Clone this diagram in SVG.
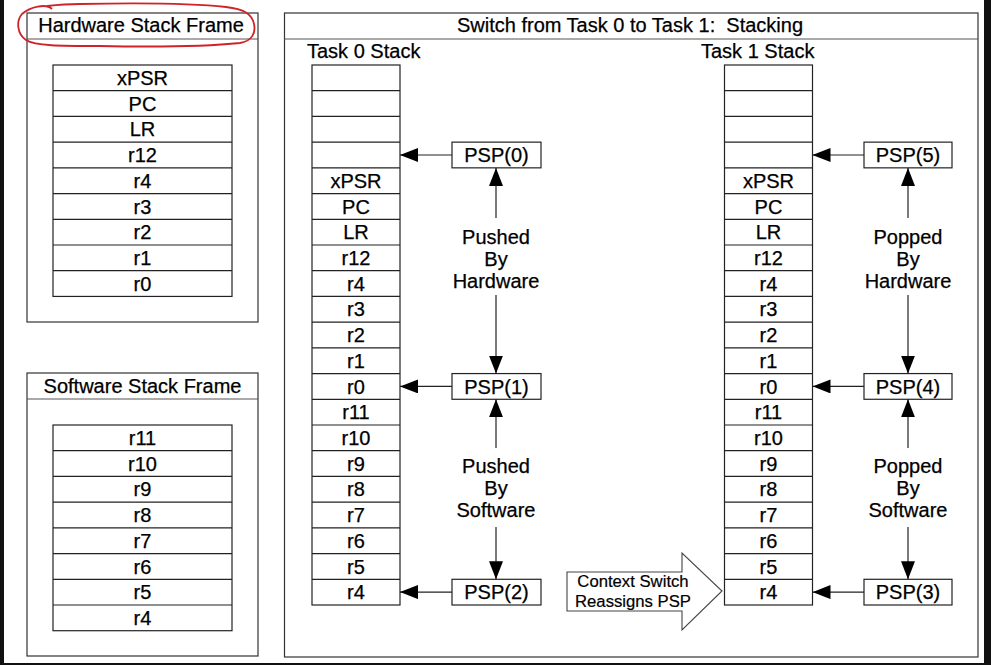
<svg xmlns="http://www.w3.org/2000/svg" width="991" height="665" viewBox="0 0 991 665">
<style>
.frame{fill:#fff;stroke:#333;stroke-width:1.2}
.div{stroke:#555;stroke-width:1.2}
.cell{fill:#fff;stroke:#222;stroke-width:1.2}
.ln{stroke:#222;stroke-width:1.2}
.t{font-family:"Liberation Sans",Arial,sans-serif;font-size:20px;fill:#000;stroke:#000;stroke-width:0.25;text-anchor:middle}
.tl{font-family:"Liberation Sans",Arial,sans-serif;font-size:20px;fill:#000;stroke:#000;stroke-width:0.25}
.ts{font-family:"Liberation Sans",Arial,sans-serif;font-size:16.7px;fill:#000;stroke:#000;stroke-width:0.2;text-anchor:middle}
.conn{stroke:#222;stroke-width:1.2;fill:none;marker-end:url(#ah)}
.bar{fill:#111}
</style>
<defs>
<marker id="ah" markerUnits="userSpaceOnUse" markerWidth="18" markerHeight="14" refX="18" refY="7" orient="auto">
<path d="M0,0 L18,7 L0,14 z" fill="#000"/>
</marker>
</defs>
<rect width="991" height="665" fill="#fff"/>
<rect class="bar" x="0" y="0" width="4" height="665"/>
<rect class="bar" x="984" y="0" width="7" height="665"/>
<rect class="bar" x="0" y="663" width="991" height="2"/>

<g id="hardware-frame">
<rect class="frame" x="27" y="13" width="231" height="309"/>
<line class="div" x1="27" y1="39" x2="258" y2="39"/>
<text class="t" x="141" y="32">Hardware Stack Frame</text>
<rect class="cell" x="53" y="65" width="179" height="231.43"/>
<line class="ln" x1="53" y1="90.71" x2="232" y2="90.71"/>
<line class="ln" x1="53" y1="116.43" x2="232" y2="116.43"/>
<line class="ln" x1="53" y1="142.14" x2="232" y2="142.14"/>
<line class="ln" x1="53" y1="167.86" x2="232" y2="167.86"/>
<line class="ln" x1="53" y1="193.57" x2="232" y2="193.57"/>
<line class="ln" x1="53" y1="219.29" x2="232" y2="219.29"/>
<line class="ln" x1="53" y1="245" x2="232" y2="245"/>
<line class="ln" x1="53" y1="270.71" x2="232" y2="270.71"/>
<text class="t" x="142.5" y="85">xPSR</text>
<text class="t" x="142.5" y="110.7">PC</text>
<text class="t" x="142.5" y="136.4">LR</text>
<text class="t" x="142.5" y="162.1">r12</text>
<text class="t" x="142.5" y="187.8">r4</text>
<text class="t" x="142.5" y="213.5">r3</text>
<text class="t" x="142.5" y="239.2">r2</text>
<text class="t" x="142.5" y="265">r1</text>
<text class="t" x="142.5" y="290.7">r0</text>
<path d="M52,9 C46,3 30,7 22,14 C16,21 17,34 26,40 C35,46 60,46 100,46 C150,47 210,46 240,43 C252,41 256,33 254,24 C252,14 244,9 226,7 C190,3 130,3 80,4 C66,4 56,5 47,6" fill="none" stroke="#d0222a" stroke-width="1.8"/>
</g>

<g id="software-frame">
<rect class="frame" x="27" y="373" width="231" height="283"/>
<line class="div" x1="27" y1="399" x2="258" y2="399"/>
<text class="t" x="142.5" y="393">Software Stack Frame</text>
<rect class="cell" x="53" y="425" width="179" height="205.71"/>
<line class="ln" x1="53" y1="450.71" x2="232" y2="450.71"/>
<line class="ln" x1="53" y1="476.43" x2="232" y2="476.43"/>
<line class="ln" x1="53" y1="502.14" x2="232" y2="502.14"/>
<line class="ln" x1="53" y1="527.86" x2="232" y2="527.86"/>
<line class="ln" x1="53" y1="553.57" x2="232" y2="553.57"/>
<line class="ln" x1="53" y1="579.29" x2="232" y2="579.29"/>
<line class="ln" x1="53" y1="605" x2="232" y2="605"/>
<text class="t" x="142.5" y="445">r11</text>
<text class="t" x="142.5" y="470.7">r10</text>
<text class="t" x="142.5" y="496.4">r9</text>
<text class="t" x="142.5" y="522.1">r8</text>
<text class="t" x="142.5" y="547.8">r7</text>
<text class="t" x="142.5" y="573.5">r6</text>
<text class="t" x="142.5" y="599.2">r5</text>
<text class="t" x="142.5" y="625">r4</text>
</g>

<g id="switch-frame">
<rect class="frame" x="284.5" y="13" width="693.5" height="644"/>
<line class="div" x1="284.5" y1="39" x2="978" y2="39"/>
<text class="t" x="630" y="32" xml:space="preserve" style="white-space:pre">Switch from Task 0 to Task 1:  Stacking</text>
</g>

<g id="task0-stack">
<text class="tl" x="307" y="58">Task 0 Stack</text>
<rect class="cell" x="312" y="65" width="88" height="540"/>
<path class="ln" d="M312,90.71H400M312,116.43H400M312,142.14H400M312,167.86H400M312,193.57H400M312,219.29H400M312,245H400M312,270.71H400M312,296.43H400M312,322.14H400M312,347.86H400M312,373.57H400M312,399.29H400M312,425H400M312,450.71H400M312,476.43H400M312,502.14H400M312,527.86H400M312,553.57H400M312,579.29H400"/>
<text class="t" x="356" y="187.8">xPSR</text>
<text class="t" x="356" y="213.5">PC</text>
<text class="t" x="356" y="239.2">LR</text>
<text class="t" x="356" y="265">r12</text>
<text class="t" x="356" y="290.7">r4</text>
<text class="t" x="356" y="316.4">r3</text>
<text class="t" x="356" y="342.1">r2</text>
<text class="t" x="356" y="367.8">r1</text>
<text class="t" x="356" y="393.5">r0</text>
<text class="t" x="356" y="419.2">r11</text>
<text class="t" x="356" y="445">r10</text>
<text class="t" x="356" y="470.7">r9</text>
<text class="t" x="356" y="496.4">r8</text>
<text class="t" x="356" y="522.1">r7</text>
<text class="t" x="356" y="547.8">r6</text>
<text class="t" x="356" y="573.5">r5</text>
<text class="t" x="356" y="599.2">r4</text>
</g>

<g id="task1-stack">
<text class="tl" x="701" y="58">Task 1 Stack</text>
<rect class="cell" x="724.5" y="65" width="88" height="540"/>
<path class="ln" d="M724.5,90.71H812.5M724.5,116.43H812.5M724.5,142.14H812.5M724.5,167.86H812.5M724.5,193.57H812.5M724.5,219.29H812.5M724.5,245H812.5M724.5,270.71H812.5M724.5,296.43H812.5M724.5,322.14H812.5M724.5,347.86H812.5M724.5,373.57H812.5M724.5,399.29H812.5M724.5,425H812.5M724.5,450.71H812.5M724.5,476.43H812.5M724.5,502.14H812.5M724.5,527.86H812.5M724.5,553.57H812.5M724.5,579.29H812.5"/>
<text class="t" x="768.5" y="187.8">xPSR</text>
<text class="t" x="768.5" y="213.5">PC</text>
<text class="t" x="768.5" y="239.2">LR</text>
<text class="t" x="768.5" y="265">r12</text>
<text class="t" x="768.5" y="290.7">r4</text>
<text class="t" x="768.5" y="316.4">r3</text>
<text class="t" x="768.5" y="342.1">r2</text>
<text class="t" x="768.5" y="367.8">r1</text>
<text class="t" x="768.5" y="393.5">r0</text>
<text class="t" x="768.5" y="419.2">r11</text>
<text class="t" x="768.5" y="445">r10</text>
<text class="t" x="768.5" y="470.7">r9</text>
<text class="t" x="768.5" y="496.4">r8</text>
<text class="t" x="768.5" y="522.1">r7</text>
<text class="t" x="768.5" y="547.8">r6</text>
<text class="t" x="768.5" y="573.5">r5</text>
<text class="t" x="768.5" y="599.2">r4</text>
</g>

<g id="psp0"><rect class="cell" x="452" y="142.14" width="89" height="25.71"/><text class="t" x="496.5" y="162.1">PSP(0)</text></g>
<g id="psp1"><rect class="cell" x="452" y="373.57" width="89" height="25.71"/><text class="t" x="496.5" y="393.5">PSP(1)</text></g>
<g id="psp2"><rect class="cell" x="452" y="579.29" width="89" height="25.71"/><text class="t" x="496.5" y="599.2">PSP(2)</text></g>
<g id="psp5"><rect class="cell" x="864" y="142.14" width="88" height="25.71"/><text class="t" x="908" y="162.1">PSP(5)</text></g>
<g id="psp4"><rect class="cell" x="864" y="373.57" width="88" height="25.71"/><text class="t" x="908" y="393.5">PSP(4)</text></g>
<g id="psp3"><rect class="cell" x="864" y="579.29" width="88" height="25.71"/><text class="t" x="908" y="599.2">PSP(3)</text></g>

<g id="label-pushed-hw"><text class="t" x="496" y="244">Pushed</text><text class="t" x="496" y="266">By</text><text class="t" x="496" y="288">Hardware</text></g>
<g id="label-pushed-sw"><text class="t" x="496" y="473">Pushed</text><text class="t" x="496" y="495">By</text><text class="t" x="496" y="517">Software</text></g>
<g id="label-popped-hw"><text class="t" x="908" y="244">Popped</text><text class="t" x="908" y="266">By</text><text class="t" x="908" y="288">Hardware</text></g>
<g id="label-popped-sw"><text class="t" x="908" y="473">Popped</text><text class="t" x="908" y="495">By</text><text class="t" x="908" y="517">Software</text></g>

<g id="context-switch">
<polygon points="567,572 682,572 682,553 722,591 682,630 682,611 567,611" fill="#fff" stroke="#444" stroke-width="1.1"/>
<text class="ts" x="633" y="587">Context Switch</text>
<text class="ts" x="633" y="607">Reassigns PSP</text>
</g>

<g id="connectors">
<line class="conn" x1="452" y1="155" x2="400" y2="155"/>
<line class="conn" x1="452" y1="386.4" x2="400" y2="386.4"/>
<line class="conn" x1="452" y1="592.1" x2="400" y2="592.1"/>
<line class="conn" x1="864" y1="155" x2="812.5" y2="155"/>
<line class="conn" x1="864" y1="386.4" x2="812.5" y2="386.4"/>
<line class="conn" x1="864" y1="592.1" x2="812.5" y2="592.1"/>
<line class="conn" x1="496" y1="218" x2="496" y2="168"/>
<line class="conn" x1="496" y1="295" x2="496" y2="373.6"/>
<line class="conn" x1="496" y1="448" x2="496" y2="399.3"/>
<line class="conn" x1="496" y1="527" x2="496" y2="579.3"/>
<line class="conn" x1="908" y1="218" x2="908" y2="168"/>
<line class="conn" x1="908" y1="295" x2="908" y2="373.6"/>
<line class="conn" x1="908" y1="448" x2="908" y2="399.3"/>
<line class="conn" x1="908" y1="527" x2="908" y2="579.3"/>
</g>
</svg>
